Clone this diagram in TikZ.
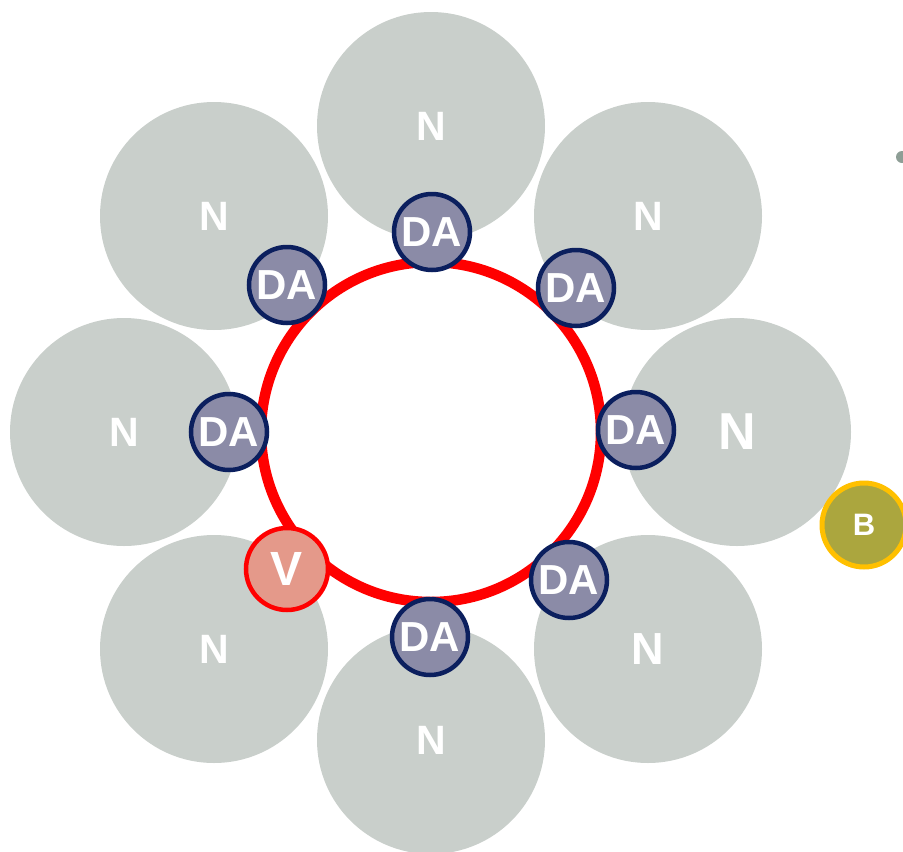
\documentclass[tikz,border=0pt]{standalone}
\usepackage{fontspec}
\setmainfont{Liberation Sans}
\definecolor{ngray}{HTML}{C9CFCB}
\definecolor{dafill}{HTML}{8B8BA7}
\definecolor{daborder}{HTML}{0B1F5E}
\definecolor{ringred}{HTML}{FF0000}
\definecolor{vfill}{HTML}{E4998A}
\definecolor{bfill}{HTML}{ABA63E}
\definecolor{bborder}{HTML}{FFC000}
\definecolor{dotgray}{HTML}{8E9E96}
\newcommand{\fsz}[1]{\fontsize{#1}{#1}\selectfont\bfseries}
\tikzset{
  nbig/.style={circle, fill=ngray, minimum size=228pt, inner sep=0pt, text=white, font=\fsz{41}},
  dabox/.style={circle, fill=dafill, draw=daborder, line width=4.5pt, minimum size=76pt, inner sep=0pt, text=white, font=\fsz{42}},
  vbox/.style={circle, fill=vfill, draw=ringred, line width=4.5pt, minimum size=82pt, inner sep=0pt, text=white, font=\fsz{48}},
  bbox/.style={circle, fill=bfill, draw=bborder, line width=5pt, minimum size=84pt, inner sep=0pt, text=white, font=\fsz{31}},
  ringstyle/.style={draw=ringred, line width=10.5pt},
}
\begin{document}
\begin{tikzpicture}[x=1pt,y=-1pt]
\fill[white] (0,0) rectangle (903,852);
\clip (0,0) rectangle (903,852);
% N circles
\node[nbig] (n1) at (431,126) {N};
\node[nbig] (n2) at (648,216) {N};
\node[nbig, font=\fsz{52}] (n3) at (737,432) {N};
\node[nbig, font=\fsz{45}] (n4) at (648,649) {N};
\node[nbig] (n5) at (431,740) {N};
\node[nbig] (n6) at (214,649) {N};
\node[nbig] (n7) at (124,432) {N};
\node[nbig] (n8) at (214,216) {N};
% ring
\node[circle, ringstyle, minimum size=340pt, inner sep=0pt] (ring) at (431,432) {};
% DA circles
\node[dabox] (d1) at (432,232) {DA};
\node[dabox] (d2) at (576,288) {DA};
\node[dabox] (d3) at (636,430) {DA};
\node[dabox] (d4) at (569,580) {DA};
\node[dabox] (d5) at (430,637) {DA};
\node[dabox] (d7) at (229,432) {DA};
\node[dabox] (d8) at (287,285) {DA};
\node[vbox] (v) at (287,569) {V};
% B and dot
\node[bbox] (b) at (864,525) {B};
\node[circle, fill=dotgray, minimum size=12pt, inner sep=0pt] (dot) at (902,157) {};
\end{tikzpicture}
\end{document}
